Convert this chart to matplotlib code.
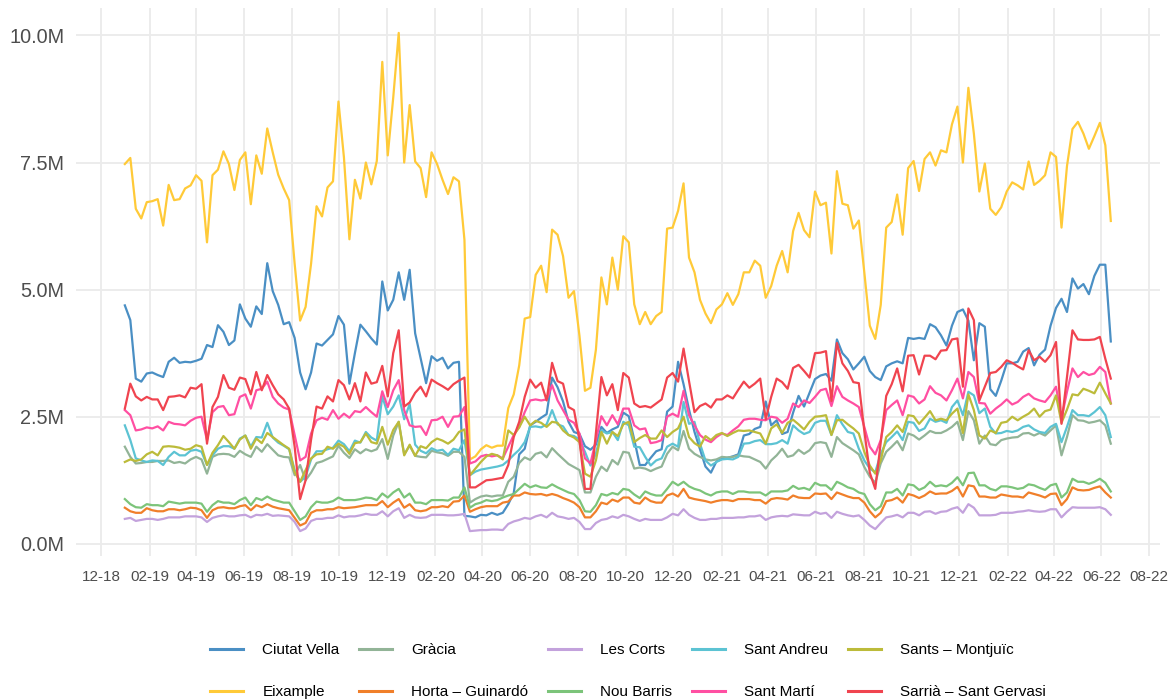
import matplotlib

matplotlib.use("Agg")
import matplotlib.pyplot as plt
import matplotlib.dates as mdates
from matplotlib.lines import Line2D
from matplotlib.ticker import FuncFormatter
import pandas as pd

plt.rcParams["font.family"] = ["Liberation Sans", "DejaVu Sans"]

# weekly series, values in millions
weeks = pd.date_range("2018-12-31", periods=181, freq="7D")

ciutat_vella = [
    4.69, 4.40, 3.25, 3.19, 3.35, 3.37, 3.32, 3.28, 3.58, 3.66,
    3.56, 3.58, 3.57, 3.60, 3.64, 3.91, 3.87, 4.30, 4.17, 3.91,
    4.00, 4.71, 4.43, 4.27, 4.67, 4.52, 5.52, 4.97, 4.70, 4.32,
    4.36, 4.05, 3.37, 3.04, 3.37, 3.94, 3.90, 4.01, 4.12, 4.48,
    4.31, 3.15, 3.75, 4.31, 4.18, 4.04, 3.92, 5.16, 4.59, 4.80,
    5.34, 4.80, 5.39, 4.14, 3.65, 3.16, 3.69, 3.60, 3.66, 3.45,
    3.56, 3.58, 0.55, 0.54, 0.52, 0.57, 0.56, 0.61, 0.57, 0.61,
    0.78, 1.00, 1.76, 1.87, 2.33, 2.40, 2.48, 2.55, 3.27, 3.08,
    2.80, 2.40, 2.20, 2.16, 1.92, 1.85, 1.95, 2.30, 2.18, 2.25,
    2.30, 2.58, 2.51, 2.05, 1.55, 1.55, 1.69, 1.82, 1.86, 2.60,
    2.70, 3.58, 3.14, 2.64, 2.20, 1.86, 1.52, 1.40, 1.62, 1.67,
    1.69, 1.72, 1.76, 2.13, 2.16, 2.26, 2.30, 2.80, 2.33, 2.43,
    2.16, 2.20, 2.58, 2.91, 2.70, 2.97, 3.24, 3.31, 3.34, 3.21,
    4.02, 3.75, 3.63, 3.43, 3.55, 3.68, 3.40, 3.28, 3.22, 3.49,
    3.55, 3.59, 3.55, 4.05, 4.03, 4.05, 4.03, 4.32, 4.26, 4.10,
    3.90, 4.29, 4.56, 4.61, 4.39, 3.61, 4.34, 4.27, 3.04, 2.91,
    3.21, 3.55, 3.55, 3.58, 3.78, 3.85, 3.51, 3.72, 3.82, 4.29,
    4.64, 4.82, 4.56, 5.22, 5.02, 5.11, 4.91, 5.27, 5.49, 5.49,
    3.98,
]

eixample = [
    7.47, 7.59, 6.59, 6.40, 6.72, 6.74, 6.78, 6.26, 7.06, 6.76,
    6.78, 6.99, 7.05, 7.25, 7.14, 5.93, 7.25, 7.36, 7.72, 7.47,
    6.96, 7.55, 7.70, 6.68, 7.64, 7.28, 8.17, 7.70, 7.26, 6.99,
    6.76, 5.51, 4.39, 4.66, 5.51, 6.64, 6.44, 7.01, 7.13, 8.70,
    7.60, 5.99, 7.16, 6.79, 7.50, 7.07, 7.53, 9.48, 7.64, 8.78,
    10.05, 7.50, 8.63, 7.52, 7.39, 6.82, 7.70, 7.47, 7.16, 6.88,
    7.21, 7.13, 5.98, 1.66, 1.72, 1.86, 1.94, 1.89, 1.93, 1.93,
    2.67, 2.94, 3.51, 4.43, 4.46, 5.29, 5.47, 4.95, 6.18, 6.08,
    5.66, 4.84, 4.97, 4.09, 3.01, 3.07, 3.82, 5.24, 4.71, 5.63,
    5.00, 6.05, 5.93, 4.71, 4.32, 4.56, 4.32, 4.48, 4.56, 6.20,
    6.22, 6.55, 7.09, 5.63, 5.34, 4.80, 4.53, 4.34, 4.61, 4.71,
    4.93, 4.70, 4.91, 5.34, 5.34, 5.57, 5.47, 4.84, 5.07, 5.47,
    5.76, 5.34, 6.15, 6.51, 6.17, 6.03, 6.93, 6.66, 6.71, 5.71,
    7.33, 6.69, 6.66, 6.20, 6.36, 5.34, 4.29, 4.03, 4.70, 6.22,
    6.33, 6.87, 6.08, 7.39, 7.53, 6.94, 7.57, 7.70, 7.44, 7.74,
    7.70, 8.25, 8.60, 7.50, 8.97, 8.07, 6.93, 7.48, 6.59, 6.47,
    6.62, 6.93, 7.11, 7.05, 6.97, 7.52, 7.06, 7.14, 7.25, 7.70,
    7.61, 6.22, 7.43, 8.16, 8.30, 8.07, 7.77, 8.02, 8.28, 7.84,
    6.35,
]

gracia = [
    1.91, 1.71, 1.58, 1.59, 1.61, 1.61, 1.63, 1.63, 1.64, 1.59,
    1.61, 1.58, 1.66, 1.71, 1.66, 1.38, 1.71, 1.76, 1.77, 1.76,
    1.71, 1.83, 1.76, 1.71, 1.91, 1.81, 1.96, 1.85, 1.74, 1.71,
    1.70, 1.35, 1.55, 1.25, 1.40, 1.59, 1.62, 1.67, 1.72, 1.93,
    1.79, 1.69, 1.86, 1.78, 1.86, 1.82, 1.86, 2.06, 1.67, 2.13,
    2.40, 1.76, 1.93, 1.73, 1.71, 1.70, 1.83, 1.80, 1.78, 1.73,
    1.81, 1.81, 1.71, 0.81, 0.88, 0.93, 0.95, 0.93, 0.95, 0.95,
    1.22, 1.32, 1.59, 1.70, 1.65, 1.77, 1.80, 1.70, 1.88, 1.77,
    1.67, 1.57, 1.51, 1.45, 1.01, 1.01, 1.32, 1.52, 1.43, 1.65,
    1.56, 1.81, 1.79, 1.48, 1.50, 1.48, 1.43, 1.48, 1.52, 1.77,
    1.91, 1.84, 2.22, 1.87, 1.77, 1.71, 1.66, 1.64, 1.66, 1.71,
    1.70, 1.71, 1.74, 1.72, 1.71, 1.66, 1.61, 1.48, 1.64, 1.74,
    1.87, 1.71, 1.74, 1.85, 1.77, 1.84, 1.98, 2.00, 1.98, 1.71,
    2.10, 1.98, 1.91, 1.84, 1.76, 1.51, 1.32, 1.20, 1.58, 1.81,
    1.91, 2.02, 1.84, 2.17, 2.13, 2.05, 2.13, 2.22, 2.18, 2.18,
    2.23, 2.30, 2.40, 2.04, 2.61, 2.43, 1.97, 2.13, 1.96, 1.94,
    2.04, 2.07, 2.09, 2.10, 2.17, 2.18, 2.13, 2.18, 2.13, 2.23,
    2.33, 1.74, 2.10, 2.53, 2.43, 2.42, 2.38, 2.40, 2.43, 2.33,
    1.97,
]

horta_guinardo = [
    0.71, 0.64, 0.61, 0.61, 0.70, 0.66, 0.64, 0.64, 0.68, 0.68,
    0.66, 0.68, 0.71, 0.70, 0.66, 0.51, 0.66, 0.71, 0.72, 0.70,
    0.70, 0.74, 0.76, 0.66, 0.76, 0.72, 0.78, 0.73, 0.70, 0.68,
    0.66, 0.51, 0.36, 0.41, 0.61, 0.66, 0.66, 0.68, 0.68, 0.72,
    0.70, 0.71, 0.72, 0.74, 0.76, 0.76, 0.76, 0.84, 0.72, 0.81,
    0.88, 0.71, 0.78, 0.66, 0.64, 0.66, 0.72, 0.72, 0.74, 0.72,
    0.83, 0.84, 0.95, 0.63, 0.68, 0.72, 0.74, 0.74, 0.74, 0.81,
    0.83, 0.95, 0.95, 1.01, 0.98, 0.97, 0.98, 0.95, 0.98, 0.95,
    0.90, 0.86, 0.81, 0.72, 0.52, 0.52, 0.64, 0.81, 0.78, 0.87,
    0.83, 0.91, 0.91, 0.81, 0.79, 0.91, 0.84, 0.81, 0.81, 0.95,
    0.99, 0.93, 1.08, 0.91, 0.88, 0.86, 0.84, 0.81, 0.84, 0.86,
    0.86, 0.84, 0.88, 0.88, 0.88, 0.86, 0.86, 0.79, 0.88, 0.90,
    0.89, 0.87, 0.95, 0.91, 0.90, 0.90, 0.99, 0.98, 0.99, 0.88,
    1.01, 0.97, 0.93, 0.90, 0.90, 0.81, 0.64, 0.52, 0.61, 0.84,
    0.86, 0.91, 0.81, 0.98, 0.95, 0.90, 0.95, 1.03, 0.98, 0.99,
    0.99, 1.04, 1.12, 0.93, 1.15, 1.13, 0.93, 0.93, 0.91, 0.91,
    0.97, 0.95, 0.93, 0.93, 0.91, 1.01, 0.98, 0.95, 0.91, 0.98,
    0.99, 0.76, 0.88, 1.11, 1.06, 1.05, 1.06, 1.10, 1.13, 1.01,
    0.91,
]

les_corts = [
    0.49, 0.51, 0.45, 0.47, 0.49, 0.49, 0.47, 0.49, 0.52, 0.52,
    0.52, 0.54, 0.54, 0.54, 0.52, 0.43, 0.51, 0.54, 0.56, 0.54,
    0.54, 0.56, 0.57, 0.52, 0.57, 0.56, 0.59, 0.55, 0.56, 0.55,
    0.54, 0.43, 0.25, 0.30, 0.45, 0.49, 0.49, 0.51, 0.51, 0.56,
    0.52, 0.54, 0.54, 0.56, 0.59, 0.57, 0.57, 0.64, 0.54, 0.64,
    0.70, 0.51, 0.57, 0.52, 0.51, 0.52, 0.57, 0.57, 0.57, 0.56,
    0.56, 0.57, 0.59, 0.25, 0.26, 0.27, 0.27, 0.28, 0.28, 0.27,
    0.39, 0.44, 0.47, 0.51, 0.49, 0.54, 0.57, 0.52, 0.61, 0.54,
    0.52, 0.49, 0.51, 0.43, 0.29, 0.29, 0.41, 0.47, 0.49, 0.54,
    0.51, 0.57, 0.54, 0.49, 0.45, 0.49, 0.47, 0.47, 0.47, 0.52,
    0.59, 0.56, 0.68, 0.57, 0.51, 0.47, 0.47, 0.49, 0.49, 0.51,
    0.51, 0.51, 0.52, 0.52, 0.54, 0.54, 0.56, 0.47, 0.52, 0.54,
    0.55, 0.54, 0.58, 0.57, 0.56, 0.56, 0.63, 0.59, 0.61, 0.51,
    0.63, 0.59, 0.56, 0.54, 0.56, 0.47, 0.36, 0.29, 0.41, 0.52,
    0.54, 0.57, 0.52, 0.61, 0.61, 0.56, 0.63, 0.64, 0.59, 0.63,
    0.64, 0.69, 0.72, 0.61, 0.78, 0.71, 0.56, 0.56, 0.56, 0.57,
    0.61, 0.61, 0.61, 0.63, 0.64, 0.66, 0.64, 0.63, 0.64, 0.68,
    0.68, 0.52, 0.63, 0.72, 0.71, 0.71, 0.71, 0.71, 0.72, 0.68,
    0.57,
]

nou_barris = [
    0.88, 0.78, 0.72, 0.71, 0.78, 0.76, 0.76, 0.74, 0.83, 0.81,
    0.79, 0.81, 0.81, 0.81, 0.79, 0.63, 0.76, 0.84, 0.81, 0.81,
    0.78, 0.86, 0.91, 0.76, 0.90, 0.86, 0.93, 0.87, 0.84, 0.81,
    0.81, 0.64, 0.47, 0.54, 0.72, 0.83, 0.81, 0.81, 0.84, 0.91,
    0.86, 0.86, 0.86, 0.88, 0.91, 0.90, 0.86, 0.99, 0.91, 1.01,
    1.08, 0.91, 0.99, 0.81, 0.81, 0.78, 0.86, 0.86, 0.86, 0.85,
    0.91, 0.91, 1.11, 0.71, 0.78, 0.81, 0.86, 0.84, 0.86, 0.91,
    0.95, 0.98, 1.08, 1.18, 1.11, 1.15, 1.11, 1.10, 1.17, 1.11,
    1.06, 1.01, 0.98, 0.86, 0.64, 0.63, 0.76, 0.98, 0.95, 1.00,
    0.97, 1.08, 1.06, 0.97, 0.90, 1.03, 0.98, 0.95, 0.95, 1.08,
    1.22, 1.15, 1.22, 1.13, 1.08, 1.05, 0.99, 0.95, 1.01, 1.03,
    1.03, 0.98, 1.03, 1.03, 1.01, 1.01, 1.01, 0.95, 1.03, 1.03,
    1.03, 1.05, 1.14, 1.08, 1.10, 1.06, 1.20, 1.15, 1.15, 1.06,
    1.22, 1.17, 1.11, 1.08, 1.01, 0.98, 0.78, 0.66, 0.74, 1.01,
    1.01, 1.08, 0.95, 1.17, 1.15, 1.06, 1.11, 1.22, 1.13, 1.15,
    1.13, 1.20, 1.31, 1.15, 1.39, 1.40, 1.15, 1.15, 1.08, 1.05,
    1.13, 1.13, 1.11, 1.08, 1.10, 1.17, 1.15, 1.10, 1.06, 1.15,
    1.18, 0.91, 1.01, 1.28, 1.22, 1.22, 1.18, 1.22, 1.28, 1.20,
    1.03,
]

sant_andreu = [
    2.33, 2.04, 1.68, 1.64, 1.61, 1.64, 1.63, 1.55, 1.71, 1.81,
    1.74, 1.74, 1.83, 1.85, 1.81, 1.55, 1.74, 1.87, 1.92, 1.92,
    1.87, 2.07, 2.13, 1.91, 2.10, 2.09, 2.38, 2.09, 1.99, 1.93,
    1.86, 1.45, 1.22, 1.32, 1.66, 1.82, 1.82, 1.86, 1.89, 2.03,
    1.96, 1.82, 2.03, 1.99, 2.20, 2.09, 2.03, 2.90, 2.55, 2.70,
    2.92, 2.45, 2.75, 1.95, 1.83, 1.78, 1.88, 1.83, 1.85, 1.75,
    1.87, 1.84, 2.04, 1.35, 1.42, 1.46, 1.48, 1.50, 1.52, 1.55,
    1.64, 1.75, 1.85, 2.00, 2.30, 2.31, 2.29, 2.35, 2.63, 2.35,
    2.31, 2.14, 2.12, 2.05, 1.81, 1.54, 1.77, 2.23, 2.17, 2.20,
    2.04, 2.40, 2.33, 1.91, 1.90, 1.71, 1.54, 1.64, 1.68, 1.91,
    1.97, 1.91, 2.79, 2.36, 2.40, 1.97, 1.64, 1.54, 1.61, 1.66,
    1.67, 1.66, 1.71, 1.97, 1.98, 2.02, 2.04, 1.96, 1.96, 1.98,
    2.04, 1.97, 2.33, 2.23, 2.16, 2.20, 2.38, 2.42, 2.42, 2.14,
    2.53, 2.35, 2.20, 2.17, 1.87, 1.64, 1.48, 1.41, 1.77, 2.00,
    2.10, 2.21, 2.04, 2.40, 2.38, 2.22, 2.27, 2.46, 2.40, 2.43,
    2.38, 2.69, 2.82, 2.53, 2.99, 2.92, 2.57, 2.66, 2.30, 2.17,
    2.18, 2.22, 2.20, 2.23, 2.30, 2.33, 2.25, 2.20, 2.18, 2.30,
    2.36, 2.00, 2.30, 2.63, 2.53, 2.53, 2.51, 2.59, 2.69, 2.53,
    2.10,
]

sant_marti = [
    2.63, 2.53, 2.23, 2.25, 2.29, 2.27, 2.31, 2.23, 2.40, 2.36,
    2.35, 2.33, 2.42, 2.48, 2.50, 2.04, 2.59, 2.69, 2.71, 2.53,
    2.55, 2.89, 2.94, 2.66, 3.02, 3.05, 3.19, 2.89, 2.76, 2.68,
    2.64, 2.14, 1.64, 1.71, 2.17, 2.43, 2.48, 2.44, 2.63, 2.46,
    2.56, 2.48, 2.61, 2.59, 2.69, 2.59, 2.50, 3.00, 2.69, 3.02,
    3.22, 2.63, 2.33, 2.30, 2.31, 2.14, 2.43, 2.44, 2.50, 2.30,
    2.50, 2.51, 2.69, 1.58, 1.62, 1.72, 1.75, 1.72, 1.74, 1.68,
    1.91, 2.14, 2.30, 2.59, 2.82, 2.84, 2.82, 2.84, 3.12, 2.82,
    2.63, 2.44, 2.38, 2.17, 1.68, 1.58, 2.04, 2.51, 2.33, 2.53,
    2.35, 2.66, 2.66, 2.33, 2.25, 2.27, 1.98, 2.00, 2.04, 2.50,
    2.56, 2.50, 3.01, 2.53, 2.33, 2.14, 2.05, 2.00, 2.10, 2.17,
    2.14, 2.23, 2.31, 2.44, 2.46, 2.46, 2.44, 2.43, 2.50, 2.48,
    2.38, 2.46, 2.76, 2.69, 2.82, 2.77, 2.89, 3.02, 3.05, 2.71,
    3.10, 2.89, 2.82, 2.76, 2.69, 2.30, 1.91, 1.76, 2.04, 2.63,
    2.73, 2.82, 2.53, 2.92, 2.89, 2.76, 2.84, 3.10, 2.97, 2.92,
    2.82, 3.02, 3.25, 2.86, 3.38, 3.28, 2.77, 2.76, 2.56, 2.66,
    2.74, 2.84, 2.74, 2.79, 2.89, 2.95, 2.86, 2.82, 2.79, 2.92,
    3.09, 2.46, 2.99, 3.45, 3.28, 3.38, 3.32, 3.35, 3.48, 3.38,
    2.76,
]

sants_montjuic = [
    1.61, 1.66, 1.63, 1.66, 1.76, 1.81, 1.74, 1.91, 1.92, 1.91,
    1.89, 1.85, 1.87, 1.94, 1.91, 1.55, 1.79, 1.94, 2.12, 2.00,
    1.87, 2.05, 2.13, 1.87, 2.07, 1.98, 2.18, 2.10, 2.02, 1.94,
    1.87, 1.41, 1.22, 1.45, 1.68, 1.76, 1.77, 1.91, 1.87, 1.97,
    1.91, 1.77, 1.98, 2.00, 2.17, 2.00, 1.97, 2.30, 1.95, 2.24,
    2.40, 1.74, 1.95, 1.73, 1.92, 1.88, 2.00, 2.07, 2.03, 1.97,
    2.05, 2.20, 2.25, 1.35, 1.48, 1.61, 1.72, 1.77, 1.74, 1.66,
    2.23, 2.14, 2.29, 2.50, 2.33, 2.42, 2.38, 2.30, 2.40, 2.38,
    2.23, 2.14, 2.09, 2.00, 1.38, 1.32, 1.64, 2.20, 1.97, 2.20,
    2.12, 2.35, 2.40, 2.00, 2.08, 2.14, 2.07, 2.07, 2.23, 2.10,
    2.20, 2.27, 2.50, 2.10, 1.98, 1.91, 2.12, 2.04, 2.14, 2.18,
    2.12, 2.18, 2.23, 2.22, 2.23, 2.20, 2.17, 1.97, 2.27, 2.35,
    2.18, 2.38, 2.44, 2.35, 2.25, 2.40, 2.50, 2.51, 2.53, 2.14,
    2.43, 2.44, 2.35, 2.27, 2.17, 1.81, 1.54, 1.38, 1.64, 2.10,
    2.20, 2.33, 2.20, 2.53, 2.51, 2.36, 2.48, 2.61, 2.43, 2.46,
    2.43, 2.56, 2.66, 2.18, 2.94, 2.63, 2.13, 2.07, 2.23, 2.18,
    2.38, 2.40, 2.50, 2.43, 2.50, 2.56, 2.66, 2.50, 2.61, 2.64,
    2.92, 2.38, 2.64, 2.94, 2.92, 3.05, 3.01, 2.96, 3.17, 2.96,
    2.76,
]

sarria_sant_gervasi = [
    2.66, 3.15, 2.90, 2.82, 2.89, 2.84, 2.84, 2.63, 2.89, 2.90,
    2.92, 2.88, 3.07, 3.05, 3.14, 1.97, 2.69, 2.89, 3.32, 3.07,
    3.03, 3.27, 3.24, 2.94, 3.38, 3.02, 3.32, 3.12, 2.94, 2.84,
    2.66, 1.91, 0.88, 1.25, 2.05, 2.70, 2.66, 2.90, 2.80, 3.22,
    3.12, 2.84, 3.16, 2.80, 3.37, 3.15, 3.18, 3.50, 2.90, 3.75,
    4.20, 2.70, 2.78, 2.97, 3.09, 2.90, 3.23, 3.16, 3.10, 3.03,
    3.14, 3.21, 3.27, 1.11, 1.11, 1.18, 1.25, 1.26, 1.28, 1.30,
    1.55, 2.10, 2.40, 2.89, 3.23, 3.07, 3.17, 2.82, 3.56, 3.20,
    3.15, 2.69, 2.63, 2.04, 1.08, 1.08, 2.17, 3.28, 2.92, 3.14,
    2.63, 3.36, 3.27, 2.76, 2.69, 2.71, 2.68, 2.76, 2.84, 3.27,
    3.36, 3.19, 3.84, 3.20, 2.59, 2.71, 2.76, 2.68, 2.84, 2.84,
    2.92, 2.86, 3.03, 3.19, 3.07, 3.15, 3.25, 2.45, 2.89, 3.25,
    3.18, 3.05, 3.46, 3.52, 3.40, 3.27, 3.75, 3.76, 3.79, 2.81,
    3.95, 3.55, 3.40, 3.18, 3.16, 2.22, 1.40, 1.08, 1.99, 2.91,
    3.14, 3.45, 3.00, 3.70, 3.71, 3.33, 3.70, 3.70, 3.63, 3.80,
    3.81, 4.02, 4.04, 3.09, 4.63, 4.40, 2.82, 3.09, 3.36, 3.38,
    3.48, 3.61, 3.56, 3.49, 3.43, 3.81, 3.61, 3.68, 3.58, 3.71,
    3.97, 2.36, 3.28, 4.20, 4.02, 4.01, 4.01, 4.02, 4.07, 3.64,
    3.25,
]

districts = [
    "Ciutat Vella", "Eixample", "Gràcia", "Horta – Guinardó", "Les Corts",
    "Nou Barris", "Sant Andreu", "Sant Martí", "Sants – Montjuïc",
    "Sarrià – Sant Gervasi",
]
series = [
    ciutat_vella, eixample, gracia, horta_guinardo, les_corts,
    nou_barris, sant_andreu, sant_marti, sants_montjuic, sarria_sant_gervasi,
]
colors = [
    "#4a8fc4", "#ffca38", "#92b497", "#f07f2a", "#c3a2dc",
    "#7cc47a", "#5cc3d3", "#ff4fa2", "#bcbb3a", "#f0444f",
]

fig = plt.figure(figsize=(11.73, 7.0), dpi=100)
ax = fig.add_axes([0.0644, 0.2057, 0.9246, 0.7829])

for name, vals, col in zip(districts, series, colors):
    ax.plot(weeks[:len(vals)], vals, color=col, lw=1.6, label=name,
            solid_joinstyle="round")

ax.set_xlim(pd.Timestamp("2018-10-29"), pd.Timestamp("2022-08-15"))
ax.set_ylim(-0.24, 10.54)
ax.set_yticks([0, 2.5, 5, 7.5, 10])
ax.yaxis.set_major_formatter(FuncFormatter(lambda v, _: f"{v:.1f}M"))
ax.xaxis.set_major_locator(mdates.MonthLocator(bymonth=[2, 4, 6, 8, 10, 12]))
ax.xaxis.set_major_formatter(mdates.DateFormatter("%m-%y"))

for s in ax.spines.values():
    s.set_visible(False)
ax.grid(True, color="#ebebeb", lw=1.3)
ax.set_axisbelow(True)
ax.tick_params(axis="both", length=0, colors="#4d4d4d")
ax.tick_params(axis="y", labelsize=14.3, pad=8)
ax.tick_params(axis="x", labelsize=11, pad=10)

handles = [Line2D([], [], color=c, lw=2.2) for c in colors]
fig.legend(handles, districts, loc="center", ncol=5, frameon=False,
           bbox_to_anchor=(628 / 1173, 1 - 671 / 700), fontsize=11,
           handlelength=2.15, handletextpad=1.25, columnspacing=1.3,
           labelspacing=1.85)

fig.savefig("out.png", dpi=100)
